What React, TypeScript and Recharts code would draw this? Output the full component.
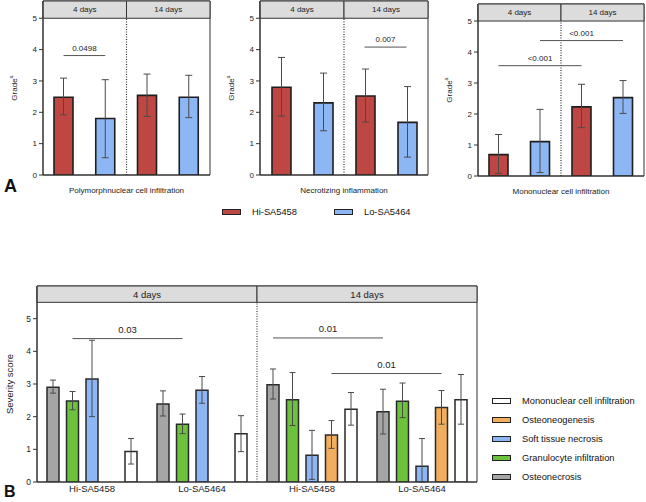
import React from 'react';
import { BarChart, Bar, XAxis, YAxis, ErrorBar, ReferenceLine, ReferenceArea, Legend } from 'recharts';

const FONT = '"Liberation Sans", Arial, Helvetica, sans-serif';
const RED = '#BF4743';
const BLUE = '#8DB6F5';
const GREY = '#A5A5A5';
const GREEN = '#6DC23D';
const ORANGE = '#F0AE5E';
const WHITE = '#FFFFFF';
const INK = '#222222';
const LINE = '#333333';

// ---------- Panel A data ----------
const A_DAYS = ['4 days', '14 days'];
const A_SERIES = ['Hi-SA5458', 'Lo-SA5464'];
const A_TITLES = ['Polymorphnuclear cell infiltration', 'Necrotizing inflammation', 'Mononuclear cell infiltration'];

const PMN_HI = [2.48, 2.54];
const PMN_HI_MIN = [1.92, 1.87];
const PMN_HI_MAX = [3.09, 3.22];
const PMN_LO = [1.8, 2.48];
const PMN_LO_MIN = [0.55, 1.83];
const PMN_LO_MAX = [3.04, 3.18];

const NEC_HI = [2.8, 2.52];
const NEC_HI_MIN = [1.88, 1.69];
const NEC_HI_MAX = [3.75, 3.38];
const NEC_LO = [2.3, 1.68];
const NEC_LO_MIN = [1.41, 0.57];
const NEC_LO_MAX = [3.25, 2.82];

const MONO_HI = [0.69, 2.23];
const MONO_HI_MIN = [0.08, 1.56];
const MONO_HI_MAX = [1.34, 2.96];
const MONO_LO = [1.11, 2.53];
const MONO_LO_MIN = [0.11, 2.02];
const MONO_LO_MAX = [2.15, 3.08];

// significance: [category, series] endpoints
const PMN_SIG = [{ from: [0, 0], to: [0, 1], y: 3.81, label: '0.0498' }];
const NEC_SIG = [{ from: [1, 0], to: [1, 1], y: 4.08, label: '0.007' }];
const MONO_SIG = [
  { from: [0, 0], to: [1, 0], y: 3.56, label: '<0.001' },
  { from: [0, 1], to: [1, 1], y: 4.37, label: '<0.001' },
];

// ---------- Panel B data ----------
const B_KEYS = ['4-Hi', '4-Lo', '14-Hi', '14-Lo'];
const B_GROUPS = ['Hi-SA5458', 'Lo-SA5464', 'Hi-SA5458', 'Lo-SA5464'];
const B_DAYS = ['4 days', '14 days'];
const B_SERIES = ['Osteonecrosis', 'Granulocyte infiltration', 'Soft tissue necrosis', 'Osteoneogenesis', 'Mononuclear cell infiltration'];
const B_COLORS = [GREY, GREEN, BLUE, ORANGE, WHITE];

const B_OSTEONECROSIS = [2.9, 2.39, 2.98, 2.15];
const B_OSTEONECROSIS_MIN = [2.72, 2.02, 2.54, 1.47];
const B_OSTEONECROSIS_MAX = [3.12, 2.79, 3.46, 2.84];
const B_GRANULOCYTE = [2.48, 1.77, 2.52, 2.47];
const B_GRANULOCYTE_MIN = [2.21, 1.48, 1.73, 1.97];
const B_GRANULOCYTE_MAX = [2.77, 2.08, 3.35, 3.03];
const B_SOFT = [3.15, 2.81, 0.82, 0.48];
const B_SOFT_MIN = [2.0, 2.41, 0.08, 0.0];
const B_SOFT_MAX = [4.34, 3.23, 1.58, 1.33];
const B_OSTEONEO = [null, null, 1.44, 2.28];
const B_OSTEONEO_MIN = [null, null, 1.03, 1.77];
const B_OSTEONEO_MAX = [null, null, 1.88, 2.8];
const B_MONO = [0.93, 1.48, 2.23, 2.52];
const B_MONO_MIN = [0.55, 0.93, 1.74, 1.77];
const B_MONO_MAX = [1.33, 2.03, 2.74, 3.29];

const B_SIG = [
  { from: [0, 1], to: [1, 1], y: 4.39, label: '0.03' },
  { from: [2, 0], to: [3, 0], y: 4.41, label: '0.01' },
  { from: [2, 3], to: [3, 3], y: 3.32, label: '0.01' },
];

const A_TOP = 5.55;
const B_TOP = 6;

function errOf(v: any, lo: any, hi: any) {
  if (v == null || lo == null || hi == null) return null;
  return [v - lo, hi - v];
}

function barX(cat: number, idx: number, n: number, band: number, size: number, gap: number) {
  const sum = n * size + (n - 1) * gap;
  const off = Math.floor((band - sum) / 2);
  return cat + (off + size / 2 + idx * (size + gap)) / band;
}

const GradeLabel = (props: any) => {
  const vb = props.viewBox || {};
  const x = vb.x + props.off;
  const y = vb.y + vb.height / 2;
  return (
    <text x={x} y={y} transform={`rotate(-90 ${x} ${y})`} textAnchor="middle" dominantBaseline="central" fontSize={8} fill={INK} fontFamily={FONT}>
      Grade<tspan fontSize={5.5} dy={-3}>a</tspan>
    </text>
  );
};

function orderBy(items: any[], names: string[], reverse: boolean) {
  const arr = items.slice().sort((a: any, b: any) => names.indexOf(a.value) - names.indexOf(b.value));
  return reverse ? arr.reverse() : arr;
}

const ALegend = (props: any) => {
  const items = orderBy(props.payload || [], A_SERIES, false);
  return (
    <div style={{ display: 'flex', fontFamily: FONT, fontSize: 9.3, color: '#111' }}>
      {items.map((it: any, i: number) => (
        <div key={i} style={{ display: 'flex', alignItems: 'center', width: 112 }}>
          <span style={{ display: 'inline-block', boxSizing: 'border-box', width: 19, height: 6, border: '1.5px solid #222', background: (it.payload && it.payload.fill) || it.color }} />
          <span style={{ marginLeft: 11 }}>{it.value}</span>
        </div>
      ))}
    </div>
  );
};

const BLegend = (props: any) => {
  const items = orderBy(props.payload || [], B_SERIES, true);
  return (
    <div style={{ fontFamily: FONT, fontSize: 9.3, color: '#111' }}>
      {items.map((it: any, i: number) => (
        <div key={i} style={{ display: 'flex', alignItems: 'center', height: 19.2 }}>
          <span style={{ display: 'inline-block', boxSizing: 'border-box', width: 19, height: 6, border: '1.5px solid #222', background: (it.payload && it.payload.fill) || it.color }} />
          <span style={{ marginLeft: 11 }}>{it.value}</span>
        </div>
      ))}
    </div>
  );
};

function APanel(p: any) {
  const { left, width, height, top, bottom, title, hi, hiMin, hiMax, lo, loMin, loMax, sigs, legend } = p;
  const data = A_DAYS.map((d, i) => ({
    day: d,
    pos: i + 0.5,
    hi: hi[i],
    hiErr: errOf(hi[i], hiMin[i], hiMax[i]),
    lo: lo[i],
    loErr: errOf(lo[i], loMin[i], loMax[i]),
  }));
  const yAxisW = 43;
  const rightM = 2;
  const xAxisH = 18;
  const plotW = width - yAxisW - rightM;
  const band = plotW / A_DAYS.length;
  const barSize = 19;
  const gap = band / 2 - barSize;
  const bx = (c: number, s: number) => barX(c, s, 2, band, barSize, gap);
  return (
    <div style={{ position: 'absolute', left, top: 0 }}>
      <BarChart width={width} height={height} data={data} barSize={barSize} barGap={gap}
        margin={{ top, right: rightM, left: 0, bottom: height - bottom - xAxisH }}>
        <XAxis xAxisId="c" dataKey="day" tick={false} tickLine={false} axisLine={{ stroke: LINE }} height={xAxisH}
          label={{ value: title, position: 'insideBottom', offset: 0, fontSize: 8, fill: INK }} />
        <XAxis xAxisId="n" dataKey="pos" type="number" domain={[0, A_DAYS.length]} hide allowDataOverflow />
        <YAxis domain={[0, A_TOP]} ticks={[0, 1, 2, 3, 4, 5]} interval={0} allowDataOverflow width={yAxisW}
          tickSize={4} tickMargin={2} tick={{ fontSize: 8, fill: INK }} axisLine={{ stroke: LINE }} tickLine={{ stroke: LINE }}
          label={(lp: any) => <GradeLabel {...lp} off={14} />} />
        <ReferenceArea xAxisId="n" x1={0} x2={2} y1={0} y2={A_TOP} fill="none" stroke={LINE} strokeWidth={1} />
        {A_DAYS.map((d, i) => (
          <ReferenceArea key={d} xAxisId="n" x1={i} x2={i + 1} y1={5} y2={A_TOP} fill="#DCDCDC" fillOpacity={1} stroke={LINE} strokeWidth={1}
            label={{ value: d, position: 'center', fontSize: 8, fill: INK }} />
        ))}
        <ReferenceLine xAxisId="n" segment={[{ x: 1, y: 0 }, { x: 1, y: 5 }]} stroke={LINE} strokeWidth={1.2} strokeDasharray="1 1.5" />
        {sigs.map((s: any, i: number) => (
          <ReferenceLine key={i} xAxisId="n" segment={[{ x: bx(s.from[0], s.from[1]), y: s.y }, { x: bx(s.to[0], s.to[1]), y: s.y }]}
            stroke="#555" strokeWidth={1} label={{ value: s.label, position: 'top', offset: 5, fontSize: 8, fill: INK }} />
        ))}
        <Bar xAxisId="c" dataKey="hi" name={A_SERIES[0]} fill={RED} stroke="#1e1e1e" strokeWidth={1.6} isAnimationActive={false}>
          <ErrorBar dataKey="hiErr" width={3.5} stroke="#4a4a4a" strokeWidth={1} />
        </Bar>
        <Bar xAxisId="c" dataKey="lo" name={A_SERIES[1]} fill={BLUE} stroke="#1e1e1e" strokeWidth={1.6} isAnimationActive={false}>
          <ErrorBar dataKey="loErr" width={3.5} stroke="#4a4a4a" strokeWidth={1} />
        </Bar>
        {legend && (
          <Legend layout="horizontal" align="center" verticalAlign="middle" content={ALegend}
            wrapperStyle={{ left: 5, top: 207, width: 230, height: 12 }} />
        )}
      </BarChart>
    </div>
  );
}

function BPanel() {
  const values = [B_OSTEONECROSIS, B_GRANULOCYTE, B_SOFT, B_OSTEONEO, B_MONO];
  const mins = [B_OSTEONECROSIS_MIN, B_GRANULOCYTE_MIN, B_SOFT_MIN, B_OSTEONEO_MIN, B_MONO_MIN];
  const maxs = [B_OSTEONECROSIS_MAX, B_GRANULOCYTE_MAX, B_SOFT_MAX, B_OSTEONEO_MAX, B_MONO_MAX];
  const data = B_KEYS.map((k, i) => {
    const row: any = { key: k, pos: i + 0.5 };
    values.forEach((arr, s) => {
      row['s' + s] = arr[i];
      row['e' + s] = errOf(arr[i], mins[s][i], maxs[s][i]);
    });
    return row;
  });
  const width = 646;
  const height = 232;
  const top = 16;
  const yAxisW = 37;
  const rightM = 169;
  const xAxisH = 18;
  const bottomM = height - 212 - xAxisH;
  const plotW = width - yAxisW - rightM;
  const band = plotW / B_KEYS.length;
  const barSize = 12;
  const gap = 7.5;
  const bx = (c: number, s: number) => barX(c, s, 5, band, barSize, gap);
  return (
    <div style={{ position: 'absolute', left: 0, top: 270 }}>
      <BarChart width={width} height={height} data={data} barSize={barSize} barGap={gap}
        margin={{ top, right: rightM, left: 0, bottom: bottomM }}>
        <XAxis xAxisId="c" dataKey="key" tickLine={false} axisLine={{ stroke: LINE }} height={xAxisH} interval={0}
          tickSize={0} tickMargin={3} tick={{ fontSize: 9.5, fill: INK }}
          tickFormatter={(v: any) => B_GROUPS[B_KEYS.indexOf(v)]} />
        <XAxis xAxisId="n" dataKey="pos" type="number" domain={[0, B_KEYS.length]} hide allowDataOverflow />
        <YAxis domain={[0, B_TOP]} ticks={[0, 1, 2, 3, 4, 5]} interval={0} allowDataOverflow width={yAxisW}
          tickSize={4} tickMargin={2} tick={{ fontSize: 8.5, fill: INK }} axisLine={{ stroke: LINE }} tickLine={{ stroke: LINE }}
          label={{ value: 'Severity score', angle: -90, position: 'insideLeft', offset: 10, fontSize: 9.5, fill: INK, style: { textAnchor: 'middle' } }} />
        <ReferenceArea xAxisId="n" x1={0} x2={4} y1={0} y2={B_TOP} fill="none" stroke={LINE} strokeWidth={1} />
        {B_DAYS.map((d, i) => (
          <ReferenceArea key={d} xAxisId="n" x1={i * 2} x2={i * 2 + 2} y1={5.5} y2={B_TOP} fill="#DCDCDC" fillOpacity={1} stroke={LINE} strokeWidth={1}
            label={{ value: d, position: 'center', fontSize: 9.5, fill: INK }} />
        ))}
        <ReferenceLine xAxisId="n" segment={[{ x: 2, y: 0 }, { x: 2, y: 5.5 }]} stroke={LINE} strokeWidth={1.1} strokeDasharray="1 1.5" />
        {B_SIG.map((s, i) => (
          <ReferenceLine key={i} xAxisId="n" segment={[{ x: bx(s.from[0], s.from[1]), y: s.y }, { x: bx(s.to[0], s.to[1]), y: s.y }]}
            stroke="#555" strokeWidth={1} label={{ value: s.label, position: 'top', offset: 6, fontSize: 9.5, fill: INK }} />
        ))}
        {B_SERIES.map((name, s) => (
          <Bar key={name} xAxisId="c" dataKey={'s' + s} name={name} fill={B_COLORS[s]} stroke="#2a2a2a" strokeWidth={1.5} isAnimationActive={false}>
            <ErrorBar dataKey={'e' + s} width={3} stroke="#4a4a4a" strokeWidth={1} />
          </Bar>
        ))}
        <Legend layout="vertical" align="center" verticalAlign="middle" content={BLegend}
          wrapperStyle={{ left: 492, top: 121, width: 154, height: 100 }} />
      </BarChart>
    </div>
  );
}

export default function App() {
  return (
    <div style={{ position: 'absolute', left: 0, top: 0, width: 646, height: 502, background: '#fff', fontFamily: FONT, overflow: 'hidden' }}>
      <APanel left={0} width={212} height={200} top={1} bottom={175} title={A_TITLES[0]}
        hi={PMN_HI} hiMin={PMN_HI_MIN} hiMax={PMN_HI_MAX} lo={PMN_LO} loMin={PMN_LO_MIN} loMax={PMN_LO_MAX} sigs={PMN_SIG} />
      <APanel left={217} width={213} height={230} top={1} bottom={175} title={A_TITLES[1]}
        hi={NEC_HI} hiMin={NEC_HI_MIN} hiMax={NEC_HI_MAX} lo={NEC_LO} loMin={NEC_LO_MIN} loMax={NEC_LO_MAX} sigs={NEC_SIG} legend />
      <APanel left={435} width={211} height={200} top={4} bottom={176} title={A_TITLES[2]}
        hi={MONO_HI} hiMin={MONO_HI_MIN} hiMax={MONO_HI_MAX} lo={MONO_LO} loMin={MONO_LO_MIN} loMax={MONO_LO_MAX} sigs={MONO_SIG} />
      <BPanel />
      <div style={{ position: 'absolute', left: 4, top: 175, fontSize: 18, fontWeight: 'bold', fontFamily: FONT, lineHeight: '22px', color: '#111' }}>A</div>
      <div style={{ position: 'absolute', left: 4, top: 483, fontSize: 16, fontWeight: 'bold', fontFamily: FONT, lineHeight: '18px', color: '#111' }}>B</div>
    </div>
  );
}
